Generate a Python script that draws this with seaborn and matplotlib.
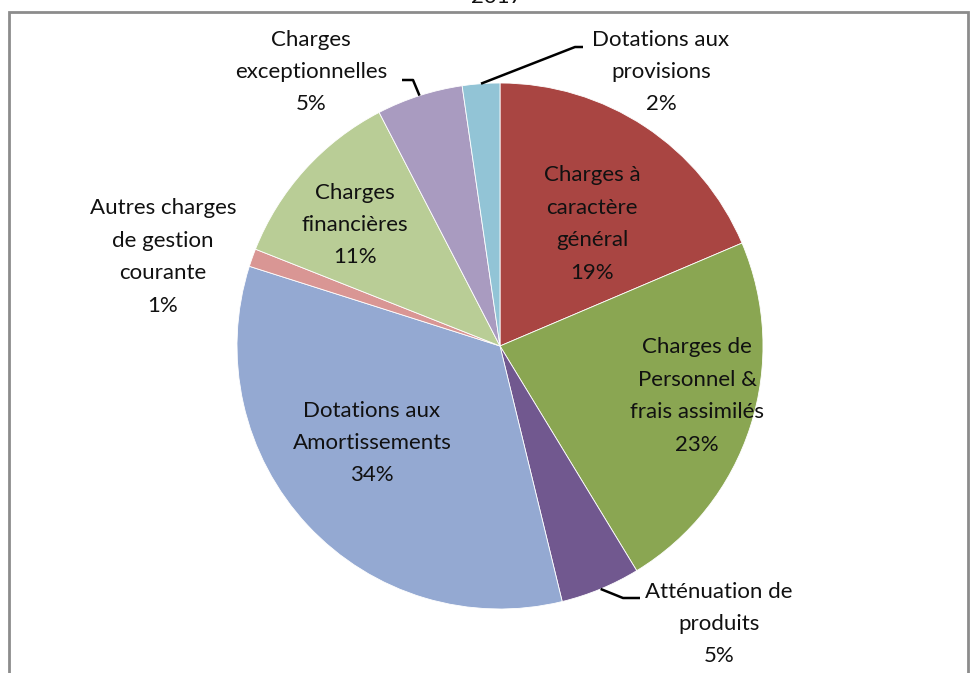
import matplotlib.pyplot as plt
import numpy as np
import seaborn as sns
from matplotlib.patches import Rectangle

W, H = 975, 673

LABELS = [
    "Charges à\ncaractère\ngénéral",
    "Charges de\nPersonnel &\nfrais assimilés",
    "Atténuation de\nproduits",
    "Dotations aux\nAmortissements",
    "Autres charges\nde gestion\ncourante",
    "Charges\nfinancières",
    "Charges\nexceptionnelles",
    "Dotations aux\nprovisions",
]
VALUES = [18.6, 22.7, 4.9, 33.7, 1.1, 11.4, 5.3, 2.3]
COLORS = ["#A94542", "#8AA652", "#71588F", "#94A9D2",
          "#D99694", "#B9CD96", "#A99BC0", "#92C4D6"]
TITLE = "2017"

# label centres in pixel coords (x, y from top)
LABEL_POS = [(592, 224), (697, 396), (719, 624), (372, 443),
             (163, 257), (355, 225), (311, 72), (661, 72)]
# leader lines: slice index -> (elbow, end) in pixel coords
LEADERS = {2: [(623, 598), (640, 598)],
           6: [(413, 80), (402, 80)],
           7: [(575, 47), (583, 47)]}

CENTER = (500, 346)
RADIUS = 263

sns.set_theme(style="white")
plt.rcParams["font.family"] = ["Lato", "DejaVu Sans"]

fig = plt.figure(figsize=(W / 100, H / 100), dpi=100)
ax = fig.add_axes([0, 0, 1, 1])

cx, cy = CENTER[0], H - CENTER[1]
wedges, _ = ax.pie(VALUES, colors=COLORS, startangle=90, counterclock=False,
                   center=(cx, cy), radius=RADIUS,
                   wedgeprops=dict(linewidth=0.6, edgecolor="white"))
ax.set_xlim(0, W)
ax.set_ylim(0, H)
ax.set_aspect("equal")
ax.axis("off")

total = sum(VALUES)
for i, (lab, val) in enumerate(zip(LABELS, VALUES)):
    px, py = LABEL_POS[i]
    ax.text(px, H - py, f"{lab}\n{val / total * 100:.0f}%", ha="center", va="center",
            fontsize=16, color="#111111", linespacing=1.78)

for i, pts in LEADERS.items():
    w = wedges[i]
    mid = np.deg2rad((w.theta1 + w.theta2) / 2)
    start = (cx + RADIUS * np.cos(mid), cy + RADIUS * np.sin(mid))
    xs = [start[0]] + [p[0] for p in pts]
    ys = [start[1]] + [H - p[1] for p in pts]
    ax.plot(xs, ys, color="black", lw=1.8, solid_capstyle="butt")

# chart frame, cut off at the bottom like the screenshot
fig.patches.append(Rectangle((9 / W, -0.1), (968 - 9) / W, 1.1 - 12 / H,
                             transform=fig.transFigure, fill=False,
                             edgecolor="#8C8C8C", linewidth=2))
fig.text(497 / W, 1 - 7 / H, TITLE, ha="center", va="bottom",
         fontsize=16, color="#111111")

fig.savefig("out.png", dpi=100)
